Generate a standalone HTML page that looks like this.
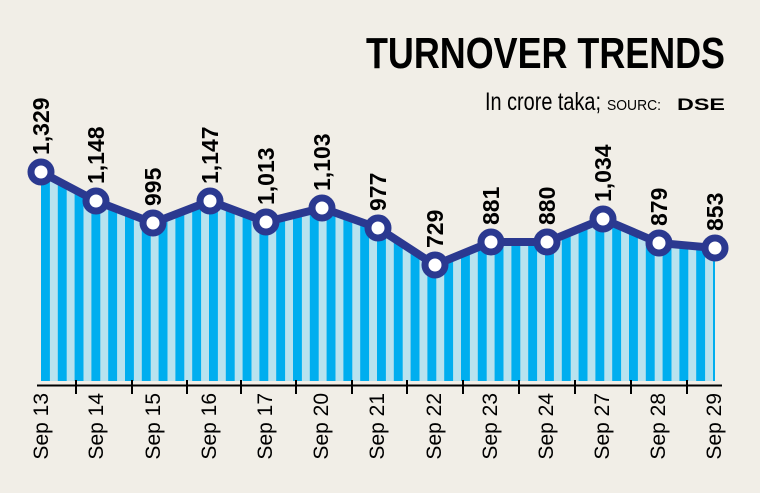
<!DOCTYPE html>
<html><head><meta charset="utf-8"><style>
html,body{margin:0;padding:0;background:#f1eee7;}
svg{display:block;}
</style></head><body>
<svg width="760" height="493" viewBox="0 0 760 493" xmlns="http://www.w3.org/2000/svg">
<defs>
<pattern id="st" x="41" y="0" width="16.8" height="10" patternUnits="userSpaceOnUse">
<rect x="0" y="0" width="9" height="10" fill="#00aeef"/>
<rect x="9" y="0" width="7.8" height="10" fill="#b9e2ee"/>
</pattern>
</defs>
<rect width="760" height="493" fill="#f1eee7"/>
<text x="725" y="68" text-anchor="end" textLength="359" lengthAdjust="spacingAndGlyphs" font-family="Liberation Sans Narrow, Liberation Sans, sans-serif" font-weight="bold" font-size="44" fill="#000">TURNOVER TRENDS</text>
<text x="485" y="110" textLength="116" lengthAdjust="spacingAndGlyphs" font-family="Liberation Sans Narrow, Liberation Sans, sans-serif" font-size="25" fill="#000">In crore taka;</text>
<text x="607" y="110" textLength="54" lengthAdjust="spacingAndGlyphs" font-family="Liberation Sans, sans-serif" font-size="15" fill="#000">SOURC:</text>
<text x="677" y="110" textLength="48" lengthAdjust="spacingAndGlyphs" font-family="Liberation Sans, sans-serif" font-weight="bold" font-size="17" fill="#000">DSE</text>
<polygon fill="url(#st)" points="41,172 96,201 153,223 210,201 266,222 322,208 378,228 435,265 491,242 547,242 603,219 659,243 715,248 715,381 41,381"/>
<line x1="37" y1="385.5" x2="722" y2="385.5" stroke="#000" stroke-width="2"/>
<g stroke="#000" stroke-width="2">
<line x1="76" y1="380" x2="76" y2="394"/><line x1="132" y1="380" x2="132" y2="394"/><line x1="187" y1="380" x2="187" y2="394"/><line x1="241" y1="380" x2="241" y2="394"/><line x1="296" y1="380" x2="296" y2="394"/><line x1="352" y1="380" x2="352" y2="394"/><line x1="407" y1="380" x2="407" y2="394"/><line x1="463" y1="380" x2="463" y2="394"/><line x1="519" y1="380" x2="519" y2="394"/><line x1="575" y1="380" x2="575" y2="394"/><line x1="631" y1="380" x2="631" y2="394"/><line x1="687" y1="380" x2="687" y2="394"/>
</g>
<polyline fill="none" stroke="#2b3990" stroke-width="8" stroke-linejoin="round" points="41,172 96,201 153,223 210,201 266,222 322,208 378,228 435,265 491,242 547,242 603,219 659,243 715,248"/>
<g fill="#fff" stroke="#2b3990" stroke-width="7">
<circle cx="41" cy="172" r="10"/><circle cx="96" cy="201" r="10"/><circle cx="153" cy="223" r="10"/><circle cx="210" cy="201" r="10"/><circle cx="266" cy="222" r="10"/><circle cx="322" cy="208" r="10"/><circle cx="378" cy="228" r="10"/><circle cx="435" cy="265" r="10"/><circle cx="491" cy="242" r="10"/><circle cx="547" cy="242" r="10"/><circle cx="603" cy="219" r="10"/><circle cx="659" cy="243" r="10"/><circle cx="715" cy="248" r="10"/>
</g>
<g font-family="Liberation Sans Narrow, Liberation Sans, sans-serif" font-weight="bold" font-size="23" fill="#000">
<text transform="translate(49,155) rotate(-90)">1,329</text>
<text transform="translate(104,184) rotate(-90)">1,148</text>
<text transform="translate(161,206) rotate(-90)">995</text>
<text transform="translate(218,184) rotate(-90)">1,147</text>
<text transform="translate(274,205) rotate(-90)">1,013</text>
<text transform="translate(330,191) rotate(-90)">1,103</text>
<text transform="translate(386,211) rotate(-90)">977</text>
<text transform="translate(443,248) rotate(-90)">729</text>
<text transform="translate(499,225) rotate(-90)">881</text>
<text transform="translate(555,225) rotate(-90)">880</text>
<text transform="translate(611,202) rotate(-90)">1,034</text>
<text transform="translate(667,226) rotate(-90)">879</text>
<text transform="translate(723,231) rotate(-90)">853</text>
</g>
<g font-family="Liberation Sans Narrow, Liberation Sans, sans-serif" font-size="21" fill="#000" text-anchor="end">
<text transform="translate(48,393) rotate(-90)">Sep 13</text>
<text transform="translate(103,393) rotate(-90)">Sep 14</text>
<text transform="translate(160,393) rotate(-90)">Sep 15</text>
<text transform="translate(216,393) rotate(-90)">Sep 16</text>
<text transform="translate(272,393) rotate(-90)">Sep 17</text>
<text transform="translate(328,393) rotate(-90)">Sep 20</text>
<text transform="translate(384,393) rotate(-90)">Sep 21</text>
<text transform="translate(441,393) rotate(-90)">Sep 22</text>
<text transform="translate(497,393) rotate(-90)">Sep 23</text>
<text transform="translate(553,393) rotate(-90)">Sep 24</text>
<text transform="translate(609,393) rotate(-90)">Sep 27</text>
<text transform="translate(665,393) rotate(-90)">Sep 28</text>
<text transform="translate(721,393) rotate(-90)">Sep 29</text>
</g>
</svg>
</body></html>
